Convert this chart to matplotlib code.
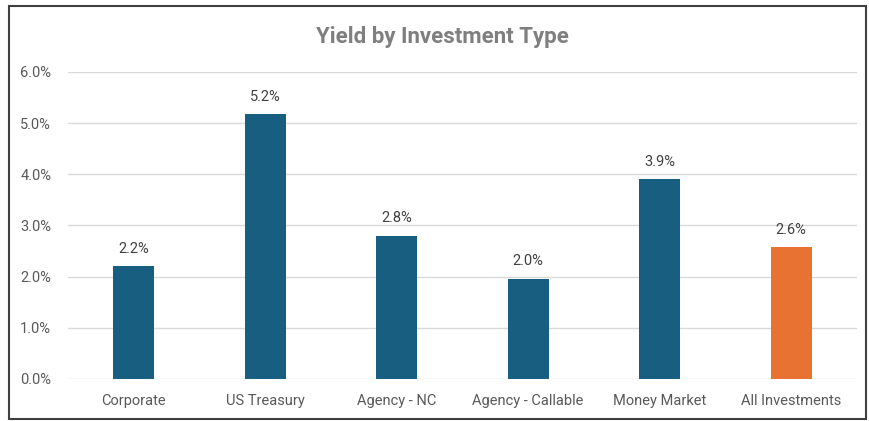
import matplotlib.pyplot as plt
from matplotlib.patches import Rectangle
from matplotlib.ticker import FuncFormatter

categories = ["Corporate", "US Treasury", "Agency - NC", "Agency - Callable",
              "Money Market", "All Investments"]
yields = [2.2, 5.18, 2.8, 1.96, 3.9, 2.57]
bar_colors = ["#175E80", "#175E80", "#175E80", "#175E80", "#175E80", "#E87232"]
y_ticks = [0, 1, 2, 3, 4, 5, 6]


def plot_chart():
    plt.rcParams['font.family'] = ['Roboto', 'DejaVu Sans']
    fig = plt.figure(figsize=(8.7, 4.21), dpi=100)
    ax = fig.add_axes([0.078, 0.0998, 0.907, 0.7292])

    xs = range(len(categories))
    bars = ax.bar(xs, yields, width=0.31, color=bar_colors, zorder=3)
    for b, v in zip(bars, yields):
        ax.text(b.get_x() + b.get_width() / 2, v + 0.2, f"{v:.1f}%",
                ha='center', va='bottom', fontsize=10.5, color="#404040")

    ax.set_xlim(-0.5, len(categories) - 0.5)
    ax.set_ylim(0, 6)
    ax.set_yticks(y_ticks)
    ax.yaxis.set_major_formatter(FuncFormatter(lambda v, p: f"{v:.1f}%"))
    ax.set_xticks(list(xs))
    ax.set_xticklabels(categories)
    ax.tick_params(axis='both', length=0, labelsize=10.5, colors="#595959")
    ax.tick_params(axis='x', pad=11)
    ax.tick_params(axis='y', pad=12)
    ax.grid(axis='y', color="#D9D9D9", linewidth=1, zorder=0)
    for s in ax.spines.values():
        s.set_visible(False)

    fig.text(0.509, 0.913, "Yield by Investment Type", ha='center', va='center',
             fontsize=16, fontweight='bold', color="#7F7F7F")

    fig.patches.append(Rectangle((9 / 870, 2 / 421), 857 / 870, 413 / 421,
                                 transform=fig.transFigure, fill=False,
                                 edgecolor="#404040", linewidth=1.5))
    fig.savefig("out.png", dpi=100)


if __name__ == "__main__":
    plot_chart()
